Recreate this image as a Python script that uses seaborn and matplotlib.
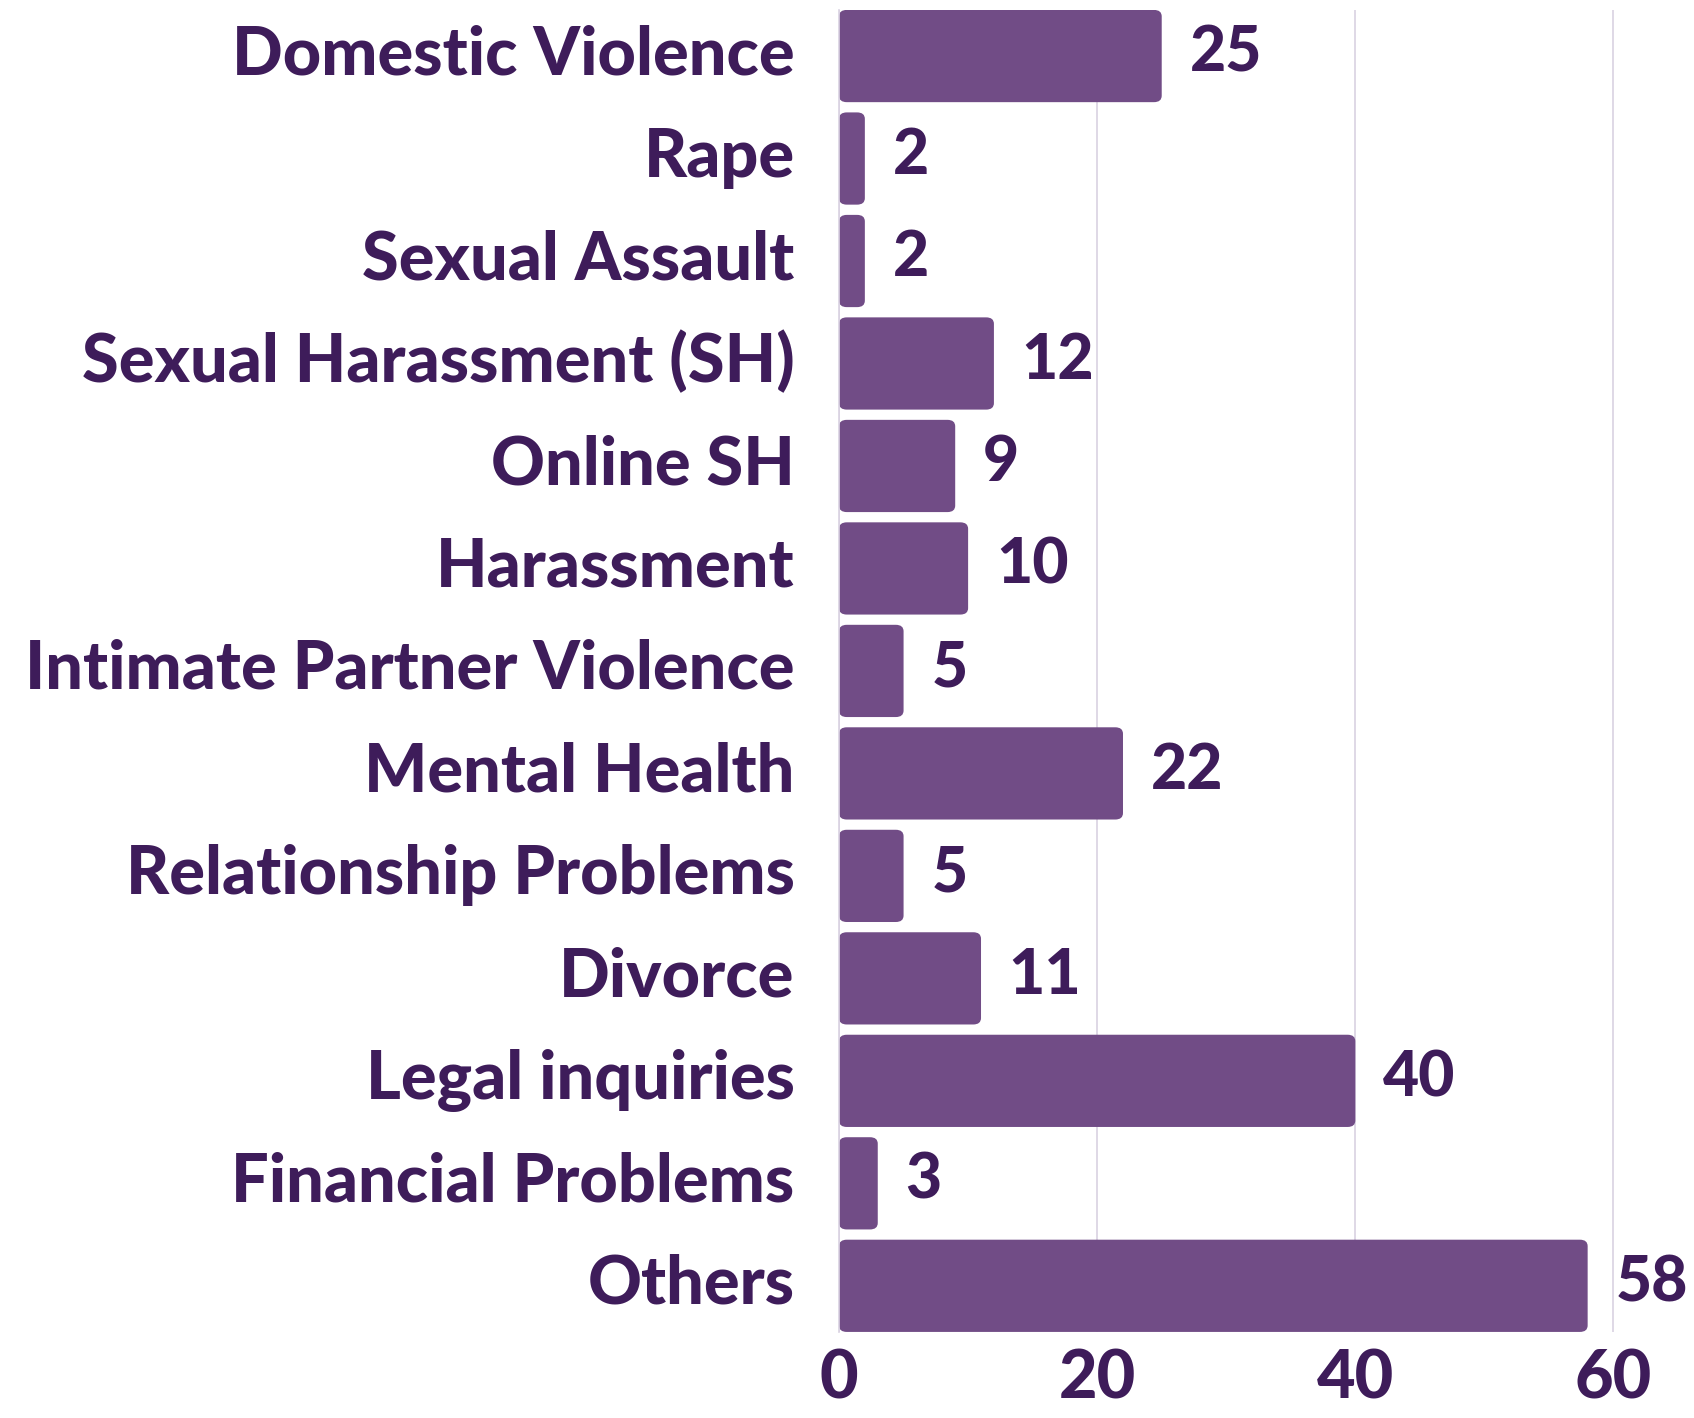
import seaborn as sns
import matplotlib.pyplot as plt
import matplotlib.transforms as mtransforms
import pandas as pd
from matplotlib.patches import FancyBboxPatch

categories = [
    "Domestic Violence", "Rape", "Sexual Assault", "Sexual Harassment (SH)",
    "Online SH", "Harassment", "Intimate Partner Violence", "Mental Health",
    "Relationship Problems", "Divorce", "Legal inquiries", "Financial Problems",
    "Others",
]
counts = [25, 2, 2, 12, 9, 10, 5, 22, 5, 11, 40, 3, 58]
x_ticks = [0, 20, 40, 60]

BAR = "#714c86"
TEXT = "#3e1c5a"
GRID = "#d9d2e2"

sns.set_theme(style="white")
plt.rcParams['font.family'] = ['Lato', 'DejaVu Sans']

df = pd.DataFrame({"category": categories, "count": counts})

fig = plt.figure(figsize=(16.94, 14.18), dpi=100)
ax = fig.add_axes([0.4953, 0.0607, 0.4583, 0.9323])

sns.barplot(data=df, x="count", y="category", color=BAR, width=0.9,
            saturation=1, ax=ax, zorder=2)

# swap plain bars for slightly rounded ones
for p in list(ax.patches):
    x0, y0, w, h = p.get_x(), p.get_y(), p.get_width(), p.get_height()
    rounded = FancyBboxPatch((x0, y0), w, h,
                             boxstyle="round,pad=0,rounding_size=0.6",
                             mutation_aspect=h / 0.6 * 0.07,
                             facecolor=BAR, edgecolor="none", zorder=2)
    p.remove()
    ax.add_patch(rounded)
    ax.annotate(f"{int(w)}", (x0 + w, y0 + h / 2), xytext=(20, 2),
                textcoords="offset points", ha="left", va="center",
                fontsize=45, fontweight="black", color=TEXT)

ax.set_xlim(0, 60.15)
ax.set_ylim(len(categories) - 1 + 0.45, -0.45)
ax.set_xticks(x_ticks)
ax.xaxis.grid(True, color=GRID, linewidth=1.2, zorder=0)
ax.yaxis.grid(False)
for s in ["top", "right", "bottom"]:
    ax.spines[s].set_visible(False)
ax.spines["left"].set_color(GRID)
ax.spines["left"].set_linewidth(1.2)

ax.tick_params(axis="x", length=0, pad=12, labelsize=48, labelcolor=TEXT)
ax.tick_params(axis="y", length=0, pad=32, labelsize=48, labelcolor=TEXT)
lift = mtransforms.ScaledTranslation(0, 5 / 72, fig.dpi_scale_trans)
for lab in ax.get_yticklabels():
    lab.set_fontweight("black")
    lab.set_transform(lab.get_transform() + lift)
for lab in ax.get_xticklabels():
    lab.set_fontweight("black")
ax.set_xlabel("")
ax.set_ylabel("")

fig.savefig("out.png", dpi=100)
